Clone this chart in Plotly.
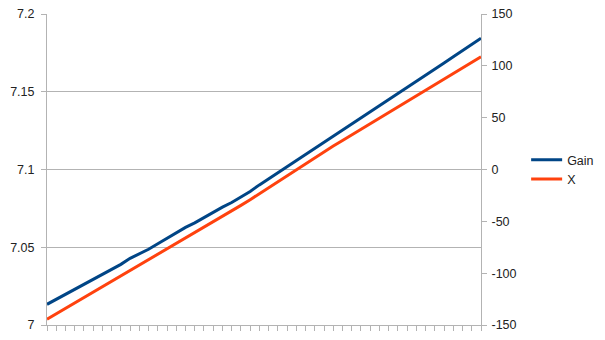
import plotly.graph_objects as go

# ---- data ----
sample_index = list(range(48))

gain = [7.0133, 7.0165, 7.0197, 7.0230, 7.0262, 7.0296, 7.0328, 7.0357, 7.0390, 7.0429,
        7.0457, 7.0487, 7.0522, 7.0558, 7.0596, 7.0628, 7.0657, 7.0691, 7.0726, 7.0758,
        7.0788, 7.0823, 7.0859, 7.0901, 7.0940, 7.0979, 7.1018, 7.1057, 7.1096, 7.1135,
        7.1174, 7.1213, 7.1253, 7.1291, 7.1331, 7.1369, 7.1408, 7.1448, 7.1487, 7.1527,
        7.1566, 7.1606, 7.1645, 7.1685, 7.1725, 7.1764, 7.1804, 7.1844]

x_values = [-144.5, -139.3, -134.0, -128.8, -123.6, -118.3, -113.1, -107.8, -102.6, -97.3,
            -92.1, -86.9, -81.7, -76.4, -71.2, -66.0, -60.8, -55.5, -50.3, -45.0,
            -39.8, -34.6, -29.1, -23.3, -17.5, -11.7, -5.9, -0.1, 5.7, 11.6,
            17.3, 22.6, 28.0, 33.4, 38.8, 44.1, 49.5, 54.9, 60.3, 65.7,
            71.1, 76.4, 81.8, 87.2, 92.6, 98.0, 103.4, 108.8]

left_tickvals = [7.0, 7.05, 7.1, 7.15, 7.2]
left_ticktext = ["7", "7.05", "7.1", "7.15", "7.2"]
right_tickvals = [-150, -100, -50, 0, 50, 100, 150]
right_ticktext = ["-150", "-100", "-50", "0", "50", "100", "150"]

# ---- figure ----
GRID = "#b3b3b3"
FONT = dict(family="Liberation Sans, Arial, sans-serif", size=12.5, color="#222222")

fig = go.Figure()
fig.add_trace(go.Scatter(x=sample_index, y=gain, name="Gain", mode="lines",
                         line=dict(color="#004586", width=3), yaxis="y"))
fig.add_trace(go.Scatter(x=sample_index, y=x_values, name="X", mode="lines",
                         line=dict(color="#ff420e", width=3), yaxis="y2"))

fig.update_layout(
    width=605, height=340,
    margin=dict(l=47, r=124, t=14, b=15, pad=0, autoexpand=False),
    paper_bgcolor="white", plot_bgcolor="white",
    font=FONT,
    showlegend=True,
    legend=dict(x=1.104, y=0.5, xanchor="left", yanchor="middle",
                font=FONT, itemwidth=31, tracegroupgap=0,
                bgcolor="rgba(0,0,0,0)"),
    xaxis=dict(range=[0, 47], tickmode="linear", tick0=0, dtick=1, automargin=False,
               showticklabels=False, ticks="outside", ticklen=5, tickcolor=GRID,
               showgrid=False, zeroline=False, showline=True, linecolor=GRID, linewidth=1),
    yaxis=dict(range=[7.0, 7.2], tickvals=left_tickvals, ticktext=left_ticktext,
               ticks="outside", ticklen=5, tickcolor=GRID, automargin=False,
               showgrid=True, gridcolor=GRID, gridwidth=1, zeroline=False,
               showline=True, linecolor=GRID, linewidth=1, ticklabelstandoff=4),
    yaxis2=dict(range=[-150, 150], tickvals=right_tickvals, ticktext=right_ticktext,
                overlaying="y", side="right", automargin=False,
                ticks="outside", ticklen=5, tickcolor=GRID,
                showgrid=False, zeroline=False,
                showline=True, linecolor=GRID, linewidth=1, ticklabelstandoff=2),
)

fig.write_html("out.html")
